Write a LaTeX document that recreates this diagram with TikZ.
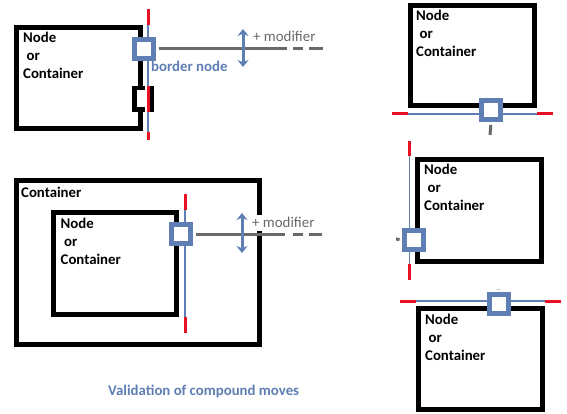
\documentclass[tikz,border=0pt]{standalone}
\usepackage{fontspec}
\setmainfont{Carlito}
\usetikzlibrary{arrows.meta}
\definecolor{bblue}{RGB}{94,126,180}
\definecolor{rred}{RGB}{232,17,35}
\definecolor{ggray}{RGB}{105,105,105}
\begin{document}
\begin{tikzpicture}[x=1pt,y=-1pt,
  txt/.style={font=\fontsize{14.8}{18}\selectfont\bfseries, inner sep=0pt, anchor=base west, align=left},
  boxline/.style={line width=5pt, draw=black},
  bnode/.style={draw=bblue, line width=5pt, fill=white, minimum size=19pt, inner sep=0pt, shape=rectangle},
  guide/.style={draw=bblue, line width=1.2pt},
  limit/.style={draw=rred, line width=3pt},
  glink/.style={draw=ggray, line width=3pt},
  modtxt/.style={font=\fontsize{14.9}{18}\selectfont, text=ggray, anchor=base west},
  dblarrow/.style={draw=bblue, line width=3pt, {Stealth[length=7pt,width=11pt]}-{Stealth[length=7pt,width=11pt]}},
  bluetxt/.style={font=\fontsize{14.8}{18}\selectfont\bfseries, text=bblue, inner sep=0pt, anchor=base west}
]
\useasboundingbox (0,0) rectangle (567,414);

% ---------- group 1 ----------
\draw[boxline] (140.5,86) -- (140.5,27.5) -- (16.5,27.5) -- (16.5,128.5) -- (140.5,128.5) -- (140.5,112);
\node[txt] (t1) at (23,79) {Node\\\hspace{3.5pt}or\\Container};
\draw[guide] (148,9) -- (148,140);
\draw[limit] (148,9) -- (148,25);
\draw[limit] (148,132) -- (148,140);
% black (shifted) border node in the notch
\draw[line width=4.5pt] (145,88.25) -- (134.5,88.25) -- (134.5,109.75) -- (145,109.75);
\draw[line width=4pt] (152,86) -- (152,112);
\draw[limit] (148.5,86) -- (148.5,112);
\node[bnode] (bn1) at (144,49) {};
\coordinate (g1e) at (287,49);
\draw[glink, shorten <=2.5pt] (bn1.east) -- (g1e);
\draw[glink] (293,49) -- (303,49);
\draw[glink] (309,49) -- (323,49);
\coordinate (a1t) at (243,29);
\coordinate (a1b) at (243,67);
\draw[dblarrow] (a1t) -- (a1b);
\node[modtxt, inner sep=0pt] (m1) at (253,42) {+ modifier};
\node[bluetxt] (bl1) at (151,72) {border node};

% ---------- group 2 ----------
\draw[boxline] (16.5,180.5) rectangle (259.5,344.5);
\node[txt] (c2) at (21,197.5) {Container};
\draw[boxline] (53.5,212.5) rectangle (176,314.8);
\node[txt] (t2) at (60.5,264.5) {Node\\\hspace{3.5pt}or\\Container};
\draw[guide] (185,194) -- (185,333);
\draw[limit] (185,194) -- (185,210);
\draw[limit] (185,317) -- (185,333);
\node[modtxt, fill=white, inner xsep=1.5pt, inner ysep=1.5pt, text depth=2pt] (m2) at (250.5,227) {+ modifier};
\node[bnode] (bn2) at (181,234) {};
\coordinate (g2e) at (285,234);
\draw[glink, shorten <=2.5pt] (bn2.east) -- (g2e);
\draw[glink] (293,234) -- (303,234);
\draw[glink] (309,234) -- (322,234);
\coordinate (a2t) at (242,213);
\coordinate (a2b) at (242,253);
\draw[dblarrow] (a2t) -- (a2b);

% ---------- group 3 (right top) ----------
\draw[boxline] (410.5,5.5) rectangle (534.5,105.5);
\node[txt] (t3) at (416,56.5) {Node\\\hspace{3.5pt}or\\Container};
\draw[guide] (392,114) -- (553,114);
\draw[limit] (392,114) -- (408,114);
\draw[limit] (537,114) -- (553,114);
\node[bnode] (bn3) at (491,110.5) {};
\coordinate (s3) at (490,135);
\draw[glink, shorten <=2.5pt] (bn3.south) -- (s3);

% ---------- group 4 (right middle) ----------
\draw[boxline] (417.5,159.5) rectangle (541.5,261.5);
\node[txt] (t4) at (424,211) {Node\\\hspace{3.5pt}or\\Container};
\draw[guide] (409.3,141) -- (409.3,280);
\draw[limit] (409.3,141) -- (409.3,156);
\draw[limit] (409.3,264) -- (409.3,280);
\node[bnode] (bn4) at (414,240) {};
\coordinate (s4) at (396,239);
\draw[glink, shorten <=2.5pt] (bn4.west) -- (s4);

% ---------- group 5 (right bottom) ----------
\draw[boxline] (418.5,308.5) rectangle (542.5,409.5);
\node[txt] (t5) at (425,360) {Node\\\hspace{3.5pt}or\\Container};
\draw[guide] (400,301) -- (561,301);
\draw[limit] (400,301) -- (416,301);
\draw[limit] (545,301) -- (561,301);
\node[bnode] (bn5) at (499,304.2) {};
\coordinate (s5) at (498.3,289.5);
\draw[glink, shorten <=2.5pt] (bn5.north) -- (s5);

% ---------- caption ----------
\node[bluetxt] (cap) at (108,395) {Validation of compound moves};
\end{tikzpicture}
\end{document}
